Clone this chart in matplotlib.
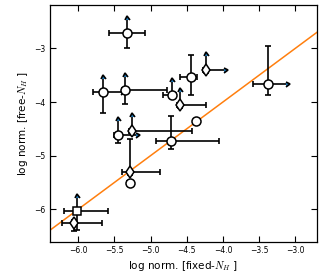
import numpy as np
import matplotlib
matplotlib.use("Agg")
import matplotlib.pyplot as plt

plt.rcParams['mathtext.fontset'] = 'cm'

# values: position, errors (lo/hi), and limit flags
x = [-5.32, -5.66, -5.35, -4.70, -4.59, -4.44, -4.23, -3.38, -4.37,
     -5.45, -5.25, -5.28, -5.28, -4.72, -6.01, -6.06]
y = [-2.72, -3.82, -3.78, -3.87, -4.06, -3.54, -3.40, -3.665, -4.35,
     -4.61, -4.535, -5.31, -5.51, -4.73, -6.04, -6.25]
markers = ['o', 'o', 'o', 'o', 'd', 'o', 'd', 'o', 'o',
           'o', 'd', 'd', 'o', 'o', 's', 'd']
xerr_lo = [0.25, 0.14, 0.05, 0.13, 0.05, 0.16, 0.05, 0.21, 0.0,
           0.05, 0.05, 0.115, 0.04, 0.20, 0.185, 0.166]
xerr_hi = [0.25, 0.0, 0.58, 0.05, 0.35, 0.08, 0.0, 0.0, 0.0,
           0.0, 0.82, 0.415, 0.04, 0.67, 0.415, 0.39]
yerr_lo = [0.27, 0.39, 0.25, 0.05, 0.05, 0.33, 0.05, 0.20, 0.0,
           0.155, 0.05, 0.05, 0.06, 0.14, 0.34, 0.16]
yerr_hi = [0.0, 0.0, 0.0, 0.0, 0.0, 0.415, 0.0, 0.71, 0.0,
           0.0, 0.0, 0.62, 0.0, 0.465, 0.0, 0.05]
# lower limits: arrow up (y) / arrow right (x)
y_lowlim = [1, 1, 1, 1, 1, 0, 1, 0, 0, 1, 1, 0, 0, 0, 1, 0]
x_lowlim = [0, 1, 0, 0, 0, 0, 1, 1, 0, 1, 0, 0, 0, 0, 0, 0]
arrow_len = 0.25

fig = plt.figure(figsize=(3.3, 2.75), dpi=100)
ax = fig.add_axes([0.1515, 0.12, 0.809, 0.862])

xlim = (-6.39, -2.70)
ylim = (-6.61, -2.19)

# one-to-one line
ax.plot(xlim, xlim, color='#ff7f0e', lw=1.1, zorder=1)

eb = dict(fmt='none', ecolor='k', elinewidth=1.2, capthick=1.2, zorder=2)
for i in range(len(x)):
    ax.errorbar(x[i], y[i], xerr=[[xerr_lo[i]], [xerr_hi[i]]],
                yerr=[[yerr_lo[i]], [yerr_hi[i]]], capsize=2.5, **eb)
    if y_lowlim[i]:
        ax.errorbar(x[i], y[i], yerr=[[0], [arrow_len]], lolims=True,
                    capsize=1.8, **eb)
    if x_lowlim[i]:
        ax.errorbar(x[i], y[i], xerr=[[0], [arrow_len]], xlolims=True,
                    capsize=1.8, **eb)

for xi, yi, m in zip(x, y, markers):
    ms = {'o': 6.5, 's': 5.5, 'd': 6.5}[m]
    ax.plot(xi, yi, marker=m, ms=ms, mfc='white', mec='k', mew=1.1,
            ls='none', zorder=3)

ax.set_xlim(xlim)
ax.set_ylim(ylim)
ax.set_xticks([-6.0, -5.5, -5.0, -4.5, -4.0, -3.5, -3.0])
ax.set_yticks([-6, -5, -4, -3])
ax.tick_params(direction='in', top=True, right=True, length=4.5, width=0.8,
               labelsize=5.5, pad=3)
for s in ax.spines.values():
    s.set_linewidth(0.9)

ax.set_xlabel(r'log norm. [fixed-$N_H$ ]', fontsize=7.5, labelpad=3)
ax.set_ylabel(r'log norm. [free-$N_H$ ]', fontsize=7.5, labelpad=3)

fig.savefig('out.png', dpi=100)
